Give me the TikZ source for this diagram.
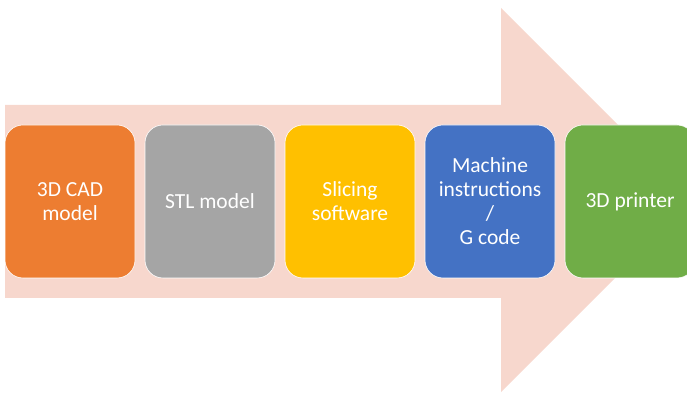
\documentclass[tikz,border=0pt]{standalone}
\usepackage{fontspec}
\setmainfont{Carlito}
\usetikzlibrary{positioning}

\definecolor{pinkbg}{HTML}{F7D7CD}
\definecolor{cadorange}{HTML}{ED7D31}
\definecolor{stlgray}{HTML}{A5A5A5}
\definecolor{slicyellow}{HTML}{FFC000}
\definecolor{gcodeblue}{HTML}{4472C4}
\definecolor{printgreen}{HTML}{70AD47}

\tikzset{
  stage/.style={rounded corners=18pt, draw=white, line width=0.6pt,
    minimum width=130pt, minimum height=153pt, inner sep=2pt, outer sep=0pt,
    text=white, align=center,
    font=\fontsize{21.5pt}{24pt}\selectfont}
}

\begin{document}
\begin{tikzpicture}[x=1pt,y=1pt,node distance=10pt]
  \useasboundingbox (0,0) rectangle (687,393);
  \clip (0,0) rectangle (687,393);
  % big background arrow
  \fill[pinkbg] (5,95) -- (5,288) -- (501,288) -- (501,385)
    -- (693,193) -- (501,1) -- (501,95) -- cycle;

  \node[stage, fill=cadorange] (cad) at (70,191.5) {3D CAD\\model};
  \node[stage, fill=stlgray, right=of cad] (stl) {STL model};
  \node[stage, fill=slicyellow, right=of stl] (slice) {Slicing\\software};
  \node[stage, fill=gcodeblue, right=of slice] (gcode) {Machine\\instructions\\/\\G code};
  \node[stage, fill=printgreen, right=of gcode] (printer) {3D printer};
\end{tikzpicture}
\end{document}
